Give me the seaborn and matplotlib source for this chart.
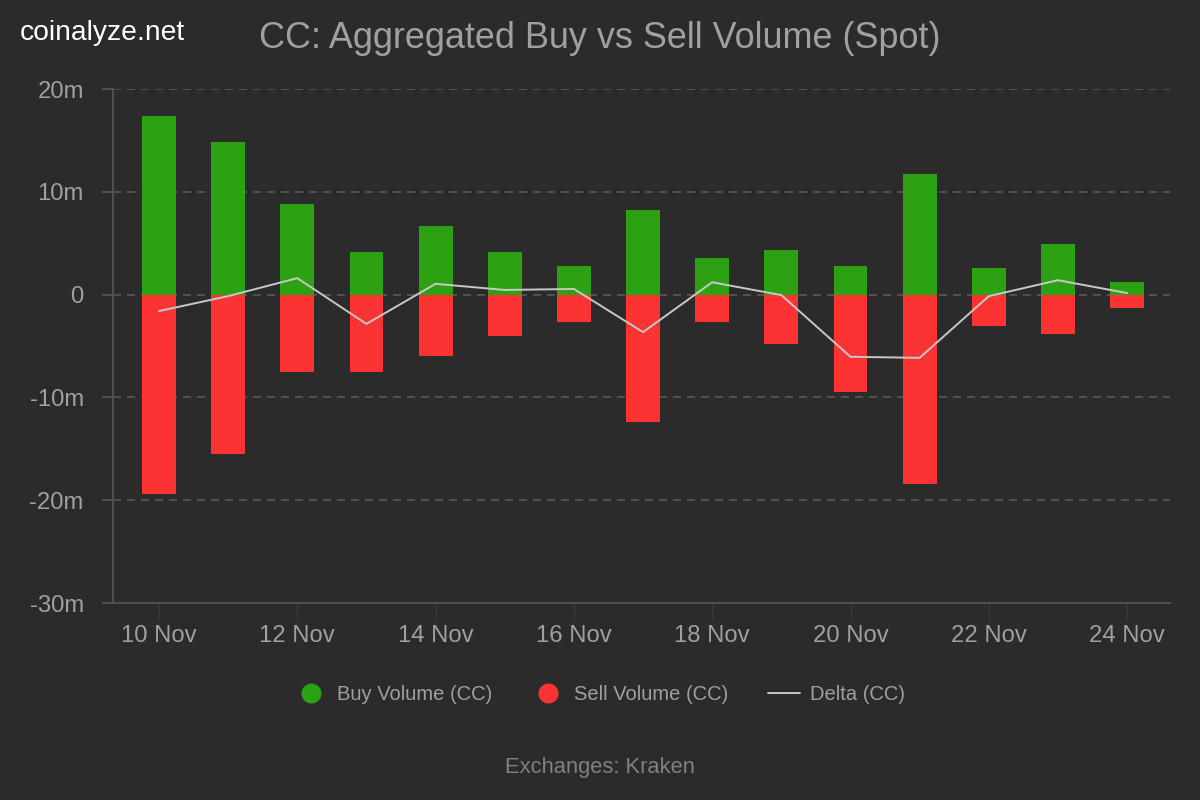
import seaborn as sns
from matplotlib import pyplot as plt
from matplotlib.lines import Line2D
import pandas as pd

days = ['10 Nov', '11 Nov', '12 Nov', '13 Nov', '14 Nov', '15 Nov', '16 Nov', '17 Nov',
        '18 Nov', '19 Nov', '20 Nov', '21 Nov', '22 Nov', '23 Nov', '24 Nov']
buy = [17.4, 14.85, 8.8, 4.15, 6.7, 4.15, 2.8, 8.2, 3.55, 4.35, 2.8, 11.7, 2.6, 4.9, 1.25]
sell = [-19.4, -15.5, -7.5, -7.5, -6.0, -4.0, -2.65, -12.4, -2.65, -4.8, -9.45, -18.4, -3.05, -3.85, -1.3]
delta = [-1.6, -0.15, 1.6, -2.85, 1.05, 0.45, 0.55, -3.65, 1.2, -0.05, -6.05, -6.15, -0.15, 1.4, 0.15]
y_ticks = [-30, -20, -10, 0, 10, 20]
y_labels = ['-30m', '-20m', '-10m', '0', '10m', '20m']

BG = '#2b2b2b'
GREEN = '#2ca212'
RED = '#fb3333'
LINE = '#c8c8c8'
GRID = '#505050'
TXT = '#a0a0a0'

sns.set_theme(style='dark')
plt.rcParams['font.family'] = ['Liberation Sans', 'DejaVu Sans']

df = pd.DataFrame({'day': days, 'buy': buy, 'sell': sell, 'delta': delta})

fig = plt.figure(figsize=(12, 8), dpi=100, facecolor=BG)
ax = fig.add_axes([113 / 1200, 1 - 603 / 800, (1170 - 113) / 1200, (603 - 89) / 800], facecolor=BG)

sns.barplot(data=df, x='day', y='buy', color=GREEN, saturation=1, width=0.49, linewidth=0, ax=ax, zorder=2)
sns.barplot(data=df, x='day', y='sell', color=RED, saturation=1, width=0.49, linewidth=0, ax=ax, zorder=2)
sns.lineplot(data=df, x='day', y='delta', color=LINE, linewidth=1.4, sort=False, ax=ax, zorder=3)

ax.set_xlim(-0.665, 14.62)
ax.set_ylim(-30, 20)
ax.set_xlabel('')
ax.set_ylabel('')

ax.set_yticks(y_ticks)
ax.set_yticklabels(y_labels)
ax.set_xticks(range(0, 15, 2))
ax.set_xticklabels(days[::2])
ax.tick_params(axis='y', colors=TXT, labelsize=17.2, length=8, width=1.44, color=GRID, pad=13, left=True)
ax.tick_params(axis='x', colors=TXT, labelsize=17.2, length=12, width=0.8, color='#3c3c3c', pad=4, bottom=True)

ax.grid(False)
ax.yaxis.grid(True, color=GRID, linestyle=(0, (4, 3)), linewidth=1.44, zorder=1)
ax.set_axisbelow(True)

for side in ['top', 'right']:
    ax.spines[side].set_visible(False)
for side in ['left', 'bottom']:
    ax.spines[side].set_color(GRID)
    ax.spines[side].set_linewidth(1.44)

handles = [
    Line2D([], [], linestyle='none', marker='o', markersize=14.4, markeredgewidth=0, color=GREEN, label='Buy Volume (CC)'),
    Line2D([], [], linestyle='none', marker='o', markersize=14.4, markeredgewidth=0, color=RED, label='Sell Volume (CC)'),
    Line2D([], [], color=LINE, linewidth=1.4, label='Delta (CC)'),
]
leg = fig.legend(handles=handles, ncol=3, loc='center', bbox_to_anchor=(600 / 1200, 1 - 695 / 800),
                 frameon=False, fontsize=14.5, handlelength=1.6, handletextpad=0.5,
                 columnspacing=1.95, labelcolor=TXT)

fig.text(20 / 1200, 1 - 33 / 800, 'coinalyze.net', color='white', fontsize=20.3, va='center', ha='left')
fig.text(600 / 1200, 1 - 38 / 800, 'CC: Aggregated Buy vs Sell Volume (Spot)', color=TXT,
         fontsize=25.9, va='center', ha='center')
fig.text(600 / 1200, 1 - 768 / 800, 'Exchanges: Kraken', color='#808080', fontsize=15.8, va='center', ha='center')

fig.savefig('out.png', dpi=100, facecolor=BG)
